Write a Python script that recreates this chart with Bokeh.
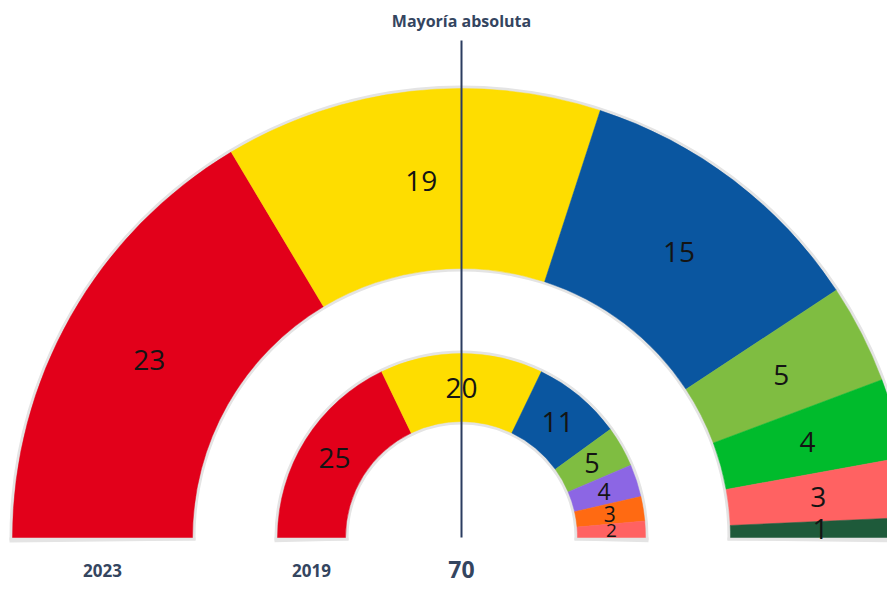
import math
from bokeh.plotting import figure
from bokeh.models import Range1d, ColumnDataSource, Label
from bokeh.core.properties import value
from bokeh.embed import file_html
from bokeh.resources import INLINE

# ---- data ----
years = ["2023", "2019"]
seats_2023 = [23, 19, 15, 5, 4, 3, 1]
seats_2019 = [25, 20, 11, 5, 4, 3, 2]
total_seats = 70
majority_title = "Mayoría absoluta"

# ---- styles ----
colors_2023 = ["#e2001a", "#fedd00", "#0a56a0", "#7fbd41", "#00bb2c", "#ff6262", "#1e5a3a"]
colors_2019 = ["#e2001a", "#fedd00", "#0a56a0", "#7fbd41", "#8c66e4", "#ff6a12", "#ff6262"]
label_sizes_2023 = ["28px"] * 7
label_sizes_2019 = ["28px", "28px", "28px", "27px", "23px", "21px", "19px"]
TITLE_COLOR = "#34455f"
LINE_COLOR = "#2b3c60"
BORDER = "#e4e4e4"
FONT = "Open Sans"

W, H = 887, 583
p = figure(width=W, height=H, output_backend="svg", toolbar_location=None,
           x_range=Range1d(0, W), y_range=Range1d(591 - H, 591),
           min_border=0, min_border_left=0, min_border_right=0,
           min_border_top=0, min_border_bottom=0)
p.axis.visible = False
p.grid.visible = False
p.outline_line_color = None
p.background_fill_color = "white"
p.border_fill_color = "white"

cx, cy = 461, 54
rings = [
    (seats_2023, colors_2023, label_sizes_2023, 269, 449),
    (seats_2019, colors_2019, label_sizes_2019, 116, 184),
]
bw = 3
for seats, colors, sizes, r_in, r_out in rings:
    # light grey border behind the ring
    d = bw / r_in
    p.annular_wedge(x=[cx], y=[cy], inner_radius=r_in - bw, outer_radius=r_out + bw,
                    start_angle=-d, end_angle=math.pi + d, color=BORDER, line_color=None)
    p.quad(left=[cx - r_out - bw, cx + r_in - bw], right=[cx - r_in + bw, cx + r_out + bw],
           bottom=[cy - bw, cy - bw], top=[cy, cy], color=BORDER, line_color=None)
    starts, ends, lx, ly = [], [], [], []
    cum = 0
    r_mid = (r_in + r_out) / 2
    for s in seats:
        a1 = math.pi - (cum + s) / total_seats * math.pi
        a2 = math.pi - cum / total_seats * math.pi
        starts.append(a1)
        ends.append(a2)
        am = (a1 + a2) / 2
        lx.append(cx + r_mid * math.cos(am))
        ly.append(cy + r_mid * math.sin(am))
        cum += s
    src = ColumnDataSource(dict(start=starts, end=ends, color=colors,
                                x=lx, y=ly, text=[str(s) for s in seats], size=sizes))
    p.annular_wedge(x=cx, y=cy, inner_radius=r_in, outer_radius=r_out,
                    start_angle="start", end_angle="end", fill_color="color",
                    line_color="color", line_width=0.5, source=src)
    p.text(x="x", y="y", text="text", source=src, text_font=value(FONT),
           text_font_size="size", text_color="#141414", text_align="center",
           text_baseline="middle")

# majority line
p.segment(x0=[cx], y0=[cy], x1=[cx], y1=[551], line_color=LINE_COLOR, line_width=2)

p.add_layout(Label(x=cx, y=571, text=majority_title, text_font=FONT, text_font_size="16px",
                   text_font_style="bold", text_color=TITLE_COLOR, text_align="center",
                   text_baseline="middle"))
p.add_layout(Label(x=cx, y=14, text=str(total_seats), text_font=FONT, text_font_size="23px",
                   text_font_style="bold", text_color=TITLE_COLOR, text_align="center",
                   text_baseline="bottom"))
for yr, (_, _, _, r_in, r_out) in zip(years, rings):
    p.add_layout(Label(x=cx - (r_in + r_out) / 2, y=21, text=yr, text_font=FONT,
                       text_font_size="17px", text_font_style="bold", text_color=TITLE_COLOR,
                       text_align="center", text_baseline="middle"))

open("out.html", "w").write(file_html(p, INLINE))
